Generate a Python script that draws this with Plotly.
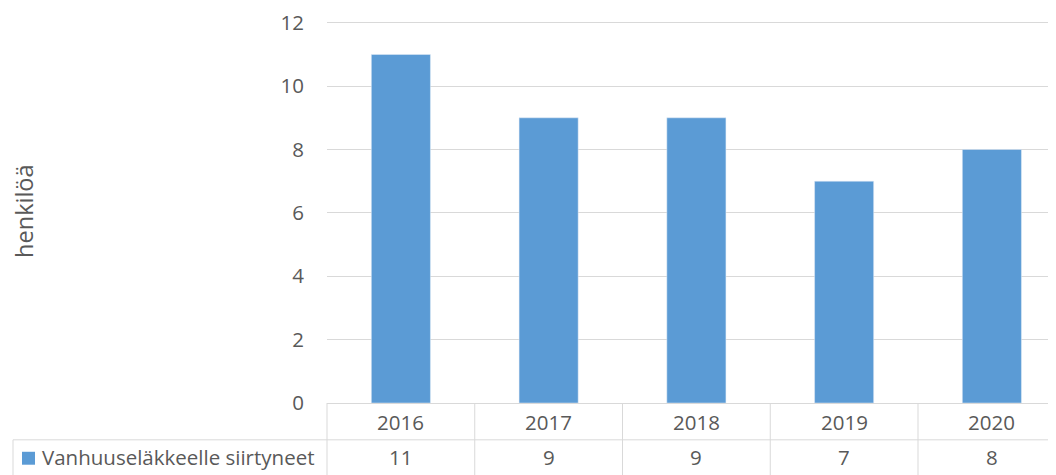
import plotly.graph_objects as go

years = ["2016", "2017", "2018", "2019", "2020"]
values = [11, 9, 9, 7, 8]
series_name = "Vanhuuseläkkeelle siirtyneet"
y_title = "henkilöä"
y_ticks = [0, 2, 4, 6, 8, 10, 12]

OFF = 8  # page body margin of the browser
SW, SH = 1056, 475          # screen size
W, H = SW - OFF, SH - OFF   # figure size
y_top = 12.15
grid12, plot_bottom = 21, 403      # screen px of 12 and 0 gridlines
unit_px = (plot_bottom - grid12) / 12
plot_left = 327
plot_top = plot_bottom - unit_px * y_top
L = plot_left - OFF
T = plot_top - OFF
B = SH - plot_bottom
plot_w = W - L
plot_h = H - T - B
cat_px = 147.75
x0 = -0.5
x1 = x0 + plot_w / cat_px

bar_color = "#5b9bd5"
txt = "#595959"
grid = "#d9d9d9"
font = "Open Sans"
fs = 20.5

def px_x(px):
    return (px - plot_left) / plot_w

def px_y(py):
    return (plot_bottom - py) / plot_h

def cat_x(i):
    return (i - x0) / (x1 - x0)

fig = go.Figure(go.Bar(x=list(range(len(years))), y=values, marker_color=bar_color,
                       width=0.4, name=series_name, showlegend=False))

shapes = []
line = dict(color=grid, width=1)
shapes.append(dict(type="line", xref="paper", yref="paper", x0=px_x(13), x1=1,
                   y0=px_y(440), y1=px_y(440), line=line))
shapes.append(dict(type="line", xref="paper", yref="paper", x0=px_x(13), x1=px_x(13),
                   y0=px_y(440), y1=px_y(480), line=line))
for i in range(len(years)):
    xb = cat_x(i - 0.5)
    shapes.append(dict(type="line", xref="paper", yref="paper", x0=xb, x1=xb,
                       y0=0, y1=px_y(480), line=line))
shapes.append(dict(type="rect", xref="paper", yref="paper", x0=px_x(22), x1=px_x(35),
                   y0=px_y(465), y1=px_y(452), fillcolor=bar_color, line=dict(width=0)))

def note(x, y, text, size=fs, **kw):
    d = dict(x=x, y=y, xref="paper", yref="paper", text=text, showarrow=False,
             xanchor="center", yanchor="middle",
             font=dict(family=font, size=size, color=txt))
    d.update(kw)
    return d

ann = []
for i, (yr, v) in enumerate(zip(years, values)):
    ann.append(note(cat_x(i), px_y(422), yr))
    ann.append(note(cat_x(i), px_y(457), str(v)))
ann.append(note(px_x(40), px_y(457), series_name, xanchor="left"))
ann.append(note(px_x(24), px_y(211), y_title, size=23.5, textangle=-90))

fig.update_layout(
    width=W, height=H,
    margin=dict(l=L, r=0, t=T, b=B, pad=0),
    plot_bgcolor="white", paper_bgcolor="white",
    shapes=shapes, annotations=ann,
    xaxis=dict(range=[x0, x1], showticklabels=False, showgrid=False, zeroline=False,
               showline=True, linecolor=grid, linewidth=1, ticks=""),
    yaxis=dict(range=[0, y_top], tickvals=y_ticks, showgrid=True, gridcolor=grid, gridwidth=1,
               zeroline=False, showline=False, ticks="", ticklabelstandoff=22,
               ticklabeloverflow="allow",
               tickfont=dict(family=font, size=fs, color=txt)),
)

fig.write_html("out.html")
